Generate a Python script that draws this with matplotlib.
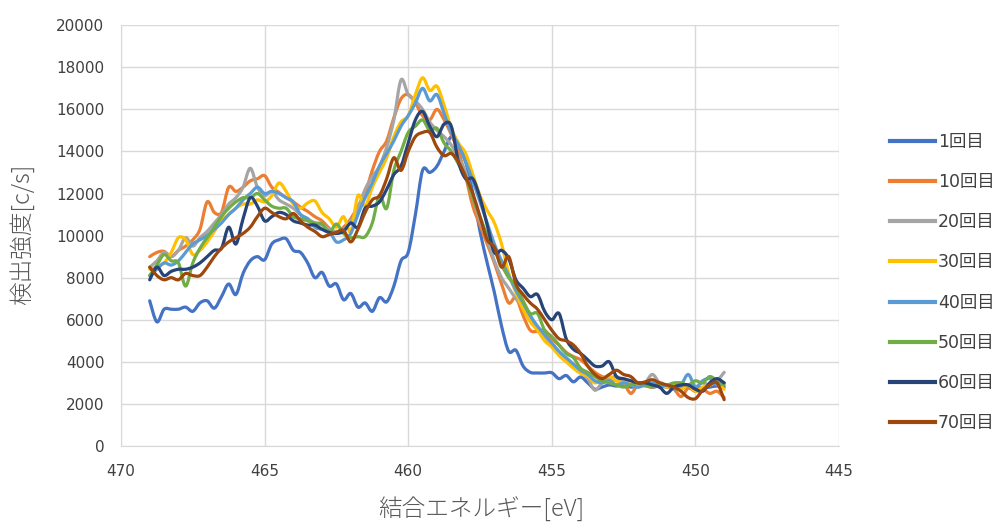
import matplotlib
matplotlib.use("Agg")
import matplotlib.pyplot as plt
from matplotlib.path import Path
from matplotlib.patches import PathPatch
from matplotlib.lines import Line2D
import numpy as np

plt.rcParams['font.family'] = ['DejaVu Sans', 'Noto Sans CJK JP']
CJK = ['Noto Sans CJK JP', 'DejaVu Sans']

# binding energy grid (eV), 469.0 down to 449.0 in 0.25 eV steps
energy = [469.0 - 0.25 * i for i in range(81)]

s1 = [6900, 5900, 6500, 6500, 6500, 6600, 6400, 6800, 6900, 6550,
      7100, 7700, 7200, 8200, 8800, 9000, 8850, 9600, 9800, 9850,
      9300, 9200, 8700, 8000, 8250, 7600, 7700, 6950, 7250, 6600,
      6800, 6400, 7050, 6850, 7600, 8800, 9200, 11000, 13100, 13000,
      13300, 14000, 14700, 14300, 13500, 12000, 10200, 8700, 7300, 5700,
      4500, 4550, 3800, 3500, 3470, 3470, 3480, 3200, 3350, 3050,
      3280, 3000, 2700, 2800, 2900, 2850, 2900, 2800, 2850, 2900,
      2800, 2850, 2800, 2750, 2800, 2850, 2800, 2750, 2800, 2850, 2800]
s10 = [9000, 9200, 9250, 9000, 9300, 9500, 9800, 10300, 11600, 11100,
       11100, 12300, 12100, 12300, 12600, 12700, 12850, 12300, 12050, 11800,
       11600, 11350, 11150, 10900, 10700, 10350, 10150, 10400, 10800, 11400,
       12000, 13100, 14000, 14500, 15600, 16500, 16700, 16300, 15700, 15500,
       16000, 15500, 14800, 14000, 12800, 11400, 10500, 9600, 8700, 7700,
       6800, 7050, 6200, 5500, 5450, 5500, 5100, 4800, 4450, 4250,
       4100, 3800, 3500, 3300, 3200, 3100, 3000, 2500, 2900, 2850,
       2800, 2900, 2800, 2700, 2350, 2750, 2600, 2700, 2500, 2600, 2300]
s20 = [8500, 8800, 9200, 9000, 9300, 9900, 9500, 9900, 10200, 10600,
       11000, 11500, 11800, 12300, 13200, 12300, 11900, 12100, 11700, 11500,
       11300, 11000, 10800, 10600, 10500, 10300, 10200, 10300, 10700, 11300,
       12200, 12800, 13300, 14200, 15500, 17400, 16700, 16400, 16000, 15400,
       15000, 14700, 14300, 13700, 13000, 11800, 10700, 9800, 8800, 8000,
       7500, 7000, 6600, 6000, 5600, 5200, 4800, 4400, 4100, 3800,
       3500, 3200, 2650, 3000, 3200, 3300, 3100, 2900, 2800, 3000,
       3400, 3000, 2800, 2900, 2700, 2900, 2800, 3000, 2900, 3100, 3500]
s30 = [8400, 8500, 8700, 9200, 9900, 9800, 9100, 9300, 9700, 10200,
       10700, 11000, 11300, 11500, 11500, 11700, 11600, 11900, 12500, 12100,
       11500, 11300, 11550, 11650, 11100, 10800, 10400, 10900, 10200, 11900,
       11400, 12300, 13000, 13700, 14700, 15400, 15700, 16700, 17500, 16900,
       17100, 16200, 15100, 14400, 13900, 12900, 11900, 11200, 10600, 9600,
       8200, 7300, 6500, 5900, 5500, 5000, 4700, 4300, 4000, 3700,
       3450, 3300, 3000, 3200, 3300, 3100, 3000, 3100, 2900, 3000,
       2900, 3000, 2800, 2900, 2700, 2900, 2600, 2800, 2900, 3000, 2700]
s40 = [8100, 8400, 8700, 8600, 8800, 9200, 9600, 9800, 10000, 10300,
       10600, 11000, 11300, 11700, 12000, 12300, 12000, 12100, 12000, 11800,
       11600, 11000, 10800, 10400, 10300, 10200, 9700, 9800, 10100, 11000,
       11800, 12500, 13300, 13900, 14500, 15200, 15700, 16300, 17000, 16400,
       16700, 15800, 14900, 14300, 13500, 12600, 11600, 10600, 9600, 8800,
       8100, 7400, 6800, 6200, 5700, 5300, 4900, 4500, 4200, 3900,
       3600, 3400, 3100, 3000, 3100, 2900, 3000, 2900, 2800, 2900,
       3000, 2800, 2900, 2700, 2900, 3400, 2800, 3100, 3200, 2900, 3000]
s50 = [8100, 8600, 9100, 8800, 8700, 7600, 8700, 9400, 9900, 10400,
       10900, 11300, 11600, 11800, 11800, 12000, 11700, 11400, 11300, 11300,
       10900, 10800, 10700, 10600, 10550, 10150, 10550, 10100, 9900, 9950,
       9950, 10600, 11900, 11300, 13100, 14000, 14900, 15200, 15500, 15000,
       15100, 14400, 14000, 13400, 12800, 11800, 10900, 10000, 9300, 8600,
       8000, 7600, 6900, 6300, 6300, 5500, 5200, 4800, 4400, 4200,
       3700, 3500, 3300, 3100, 3000, 2900, 2800, 2900, 3000, 2900,
       2800, 3000, 2900, 3000, 3000, 2900, 3100, 3000, 3300, 3100, 2900]
s60 = [7900, 8500, 8100, 8300, 8400, 8400, 8500, 8700, 9000, 9300,
       9400, 10400, 9600, 10800, 11800, 11400, 10700, 10900, 11100, 11000,
       10700, 10600, 10500, 10500, 10300, 10150, 10100, 10200, 10600, 10400,
       11300, 11400, 11600, 12200, 12900, 13300, 14400, 15500, 15900, 15200,
       14700, 15300, 15200, 13500, 12700, 12700, 11800, 10500, 9200, 9300,
       8900, 7900, 7500, 7100, 7200, 6400, 6000, 6300, 5100, 4600,
       4400, 4100, 3800, 3800, 4000, 3300, 3200, 3100, 3000, 3000,
       2900, 2800, 2500, 2800, 2900, 2900, 2700, 2600, 3000, 3200, 3000]
s70 = [8500, 8100, 7900, 8000, 7900, 8200, 8100, 8100, 8500, 9000,
       9400, 9700, 9900, 10100, 10400, 10900, 11300, 11100, 10900, 10800,
       11050, 10700, 10400, 10200, 9950, 10050, 10150, 10250, 9700, 10300,
       11100, 11700, 11900, 12700, 13700, 13100, 14000, 14700, 14900, 14900,
       14200, 13800, 13900, 13500, 12800, 12000, 10900, 9800, 9450, 8500,
       9000, 7700, 7200, 6800, 6500, 6000, 5500, 5100, 5000, 4800,
       4400, 3800, 3400, 3200, 3400, 3600, 3400, 3300, 3000, 3050,
       3150, 3000, 2900, 2800, 2600, 2300, 2250, 2650, 2900, 3000, 2200]

labels = ['1回目', '10回目', '20回目', '30回目', '40回目', '50回目', '60回目', '70回目']
series = [s1, s10, s20, s30, s40, s50, s60, s70]
colors = ['#4472C4', '#ED7D31', '#A5A5A5', '#FFC000', '#5B9BD5', '#70AD47', '#264478', '#9E480E']

x_ticks = [470, 465, 460, 455, 450, 445]
y_ticks = list(range(0, 20001, 2000))


def smooth_path(xs, ys, tension=1.0 / 6.0):
    """Catmull-Rom style smoothed line through the data points (Excel 'smoothed line')."""
    p = np.column_stack([xs, ys]).astype(float)
    n = len(p)
    verts = [p[0]]
    codes = [Path.MOVETO]
    for i in range(n - 1):
        p0 = p[i - 1] if i > 0 else p[i]
        p1 = p[i]
        p2 = p[i + 1]
        p3 = p[i + 2] if i + 2 < n else p[i + 1]
        c1 = p1 + (p2 - p0) * tension
        c2 = p2 - (p3 - p1) * tension
        verts += [c1, c2, p2]
        codes += [Path.CURVE4, Path.CURVE4, Path.CURVE4]
    return Path(verts, codes)


fig = plt.figure(figsize=(10.04, 5.25), dpi=100)
ax = fig.add_axes([0.1205, 0.1505, 0.7152, 0.8015])

for lab, vals, c in zip(labels, series, colors):
    patch = PathPatch(smooth_path(energy, vals), facecolor='none', edgecolor=c, lw=2.3,
                      joinstyle='round', capstyle='round')
    ax.add_patch(patch)

ax.set_xlim(470, 445)
ax.set_ylim(0, 20000)
ax.set_xticks(x_ticks)
ax.set_yticks(y_ticks)
ax.grid(True, color='#D9D9D9', lw=1.0)
ax.set_axisbelow(True)
for s in ['top', 'right']:
    ax.spines[s].set_visible(False)
for s in ['left', 'bottom']:
    ax.spines[s].set_color('#D9D9D9')
ax.tick_params(axis='y', length=0, labelsize=11, labelcolor='#404040', pad=12)
ax.tick_params(axis='x', length=0, labelsize=11, labelcolor='#404040', pad=13)

fig.text(481 / 1004, 1 - 510 / 525, '結合エネルギー[eV]', fontsize=17, color='#595959',
         ha='center', va='center', fontweight='light', family=CJK)
fig.text(22 / 1004, 1 - 234 / 525, '検出強度[c/s]', fontsize=17, color='#595959',
         ha='center', va='center', rotation=90, fontweight='light', family=CJK)

handles = [Line2D([], [], color=c, lw=3) for c in colors]
leg = fig.legend(handles, labels, loc='center left', bbox_to_anchor=(890 / 1004, 1 - 282.5 / 525),
                 frameon=False, fontsize=12.5, labelspacing=1.28, handlelength=2.6,
                 handletextpad=0.17, borderpad=0, borderaxespad=0)
for t in leg.get_texts():
    t.set_color('#404040')

fig.savefig('out.png', dpi=100)
